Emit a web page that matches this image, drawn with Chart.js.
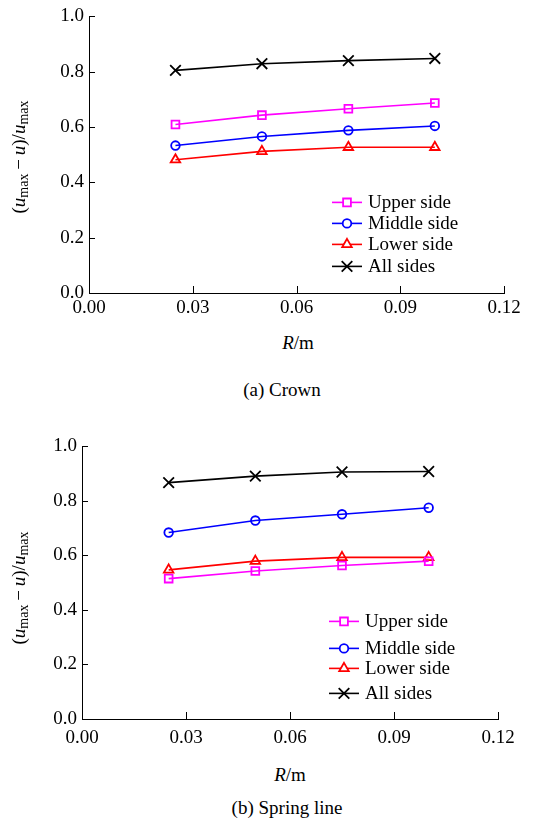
<!DOCTYPE html>
<html>
<head>
<meta charset="utf-8">
<script src="https://cdn.jsdelivr.net/npm/chart.js@4/dist/chart.umd.min.js"></script>
<style>
  body { margin: 0; background: #fff; width: 533px; height: 823px; overflow: hidden; position: relative;
         font-family: "Liberation Serif", "Times New Roman", serif; color: #000; }
  .box { position: absolute; left: 0; width: 533px; height: 330px; }
  .lbl { position: absolute; font-size: 19px; white-space: nowrap; transform: translate(-50%, -50%); }
  .ytitle { position: absolute; font-size: 19px; white-space: nowrap; transform: translate(-50%, -50%) rotate(-90deg); }
  .ytitle sub { font-size: 14px; vertical-align: -3px; font-style: normal; }
</style>
</head>
<body>
<div class="box" style="top:0"><canvas id="crown" width="533" height="330"></canvas></div>
<div class="box" style="top:430px"><canvas id="spring" width="533" height="330"></canvas></div>

<div class="ytitle" style="left:20px; top:157px">(<i>u</i><sub>max</sub>&thinsp;&minus;&thinsp;<i>u</i>)/<i>u</i><sub>max</sub></div>
<div class="lbl" style="left:298px; top:343px"><i>R</i>/m</div>
<div class="lbl" style="left:282px; top:390px">(a) Crown</div>

<div class="ytitle" style="left:20px; top:588px">(<i>u</i><sub>max</sub>&thinsp;&minus;&thinsp;<i>u</i>)/<i>u</i><sub>max</sub></div>
<div class="lbl" style="left:290px; top:775px"><i>R</i>/m</div>
<div class="lbl" style="left:287px; top:808px">(b) Spring line</div>

<script>
// radius values (m)
const radii = [0.025, 0.05, 0.075, 0.1];
const seriesNames = ['Upper side', 'Middle side', 'Lower side', 'All sides'];

// (a) crown
const crownUpper  = [0.609, 0.643, 0.666, 0.687];
const crownMiddle = [0.533, 0.566, 0.588, 0.604];
const crownLower  = [0.482, 0.512, 0.527, 0.527];
const crownAll    = [0.805, 0.829, 0.840, 0.848];

// (b) spring line
const springUpper  = [0.515, 0.543, 0.563, 0.579];
const springMiddle = [0.684, 0.728, 0.751, 0.775];
const springLower  = [0.547, 0.579, 0.593, 0.593];
const springAll    = [0.867, 0.891, 0.906, 0.908];

const xTicks = [0, 0.03, 0.06, 0.09, 0.12];
const yTicks = [0, 0.2, 0.4, 0.6, 0.8, 1.0];

const styles = [
  { color: '#ff00ff', pointStyle: 'rect', radius: 5.5 },
  { color: '#0000ff', pointStyle: 'circle', radius: 4.3 },
  { color: '#ff0000', pointStyle: 'triangle', radius: 5.5 },
  { color: '#000000', pointStyle: 'crossRot', radius: 7.5 }
];

const FAMILY = '"Liberation Serif", "Times New Roman", serif';
const FONT = { family: FAMILY, size: 19 };

function makeDatasets(values) {
  return values.map(function (vals, i) {
    return {
      label: seriesNames[i],
      data: radii.map(function (r, j) { return { x: r, y: vals[j] }; }),
      borderColor: styles[i].color,
      backgroundColor: 'rgba(0,0,0,0)',
      borderWidth: 1.6,
      pointStyle: styles[i].pointStyle,
      pointRadius: styles[i].radius,
      pointBorderWidth: 1.8,
      pointBorderColor: styles[i].color,
      pointBackgroundColor: 'rgba(0,0,0,0)',
      tension: 0
    };
  });
}

// inward tick marks + legend with line and marker
const decor = {
  id: 'decor',
  afterDraw(chart, args, opts) {
    const ctx = chart.ctx;
    const xs = chart.scales.x, ys = chart.scales.y;
    const area = chart.chartArea;
    ctx.save();
    ctx.strokeStyle = '#000';
    ctx.lineWidth = 1;
    xTicks.forEach(function (v) {
      if (v === 0) return;
      const px = Math.round(xs.getPixelForValue(v)) + 0.5;
      ctx.beginPath(); ctx.moveTo(px, area.bottom); ctx.lineTo(px, area.bottom - 7); ctx.stroke();
    });
    yTicks.forEach(function (v) {
      if (v === 0) return;
      const py = Math.round(ys.getPixelForValue(v)) + 0.5;
      ctx.beginPath(); ctx.moveTo(area.left, py); ctx.lineTo(area.left + 6, py); ctx.stroke();
    });

    // legend
    ctx.font = '19px ' + FAMILY;
    ctx.textBaseline = 'middle';
    chart.data.datasets.forEach(function (ds, i) {
      const y = area.top + opts.rows[i];
      const x0 = area.left + opts.left;
      ctx.strokeStyle = ds.borderColor;
      ctx.lineWidth = 1.6;
      ctx.beginPath(); ctx.moveTo(x0, y); ctx.lineTo(x0 + 30, y); ctx.stroke();
      ctx.fillStyle = '#fff';
      ctx.lineWidth = 1.8;
      Chart.helpers.drawPoint(ctx, {
        pointStyle: ds.pointStyle, radius: ds.pointRadius, rotation: 0, borderWidth: 1.8
      }, x0 + 15, y);
      ctx.fillStyle = '#000';
      ctx.fillText(ds.label, x0 + 36, y + 1);
    });
    ctx.restore();
  }
};

function makeChart(id, values, pad, yWidth, xHeight, xPad, legendOpts) {
  return new Chart(document.getElementById(id), {
    type: 'line',
    data: { datasets: makeDatasets(values) },
    options: {
      responsive: false,
      animation: false,
      layout: { padding: pad },
      plugins: { legend: { display: false }, title: { display: false }, tooltip: { enabled: false },
                 decor: legendOpts },
      scales: {
        x: {
          type: 'linear', min: 0, max: 0.12,
          afterFit: function (s) { s.height = xHeight; },
          afterBuildTicks: function (s) { s.ticks = xTicks.map(function (v) { return { value: v }; }); },
          ticks: { font: FONT, color: '#000', padding: xPad, maxRotation: 0, autoSkip: false,
                   callback: function (v) { return Number(v).toFixed(2); } },
          grid: { display: true, drawOnChartArea: false, drawTicks: false },
          border: { display: true, color: '#000', width: 1 }
        },
        y: {
          min: 0, max: 1.0,
          afterFit: function (s) { s.width = yWidth; },
          afterBuildTicks: function (s) { s.ticks = yTicks.map(function (v) { return { value: v }; }); },
          ticks: { font: FONT, color: '#000', padding: 5, autoSkip: false,
                   callback: function (v) { return Number(v).toFixed(1); } },
          grid: { display: true, drawOnChartArea: false, drawTicks: false },
          border: { display: true, color: '#000', width: 1 }
        }
      }
    },
    plugins: [decor]
  });
}

makeChart('crown', [crownUpper, crownMiddle, crownLower, crownAll],
  { top: 14, right: 29, left: 0, bottom: 0 }, 89, 37, 4,
  { left: 243, rows: [186, 207, 228, 250] });

makeChart('spring', [springUpper, springMiddle, springLower, springAll],
  { top: 16, right: 35, left: 0, bottom: 0 }, 82, 41, 8,
  { left: 247, rows: [175, 202, 222, 247] });
</script>
</body>
</html>
